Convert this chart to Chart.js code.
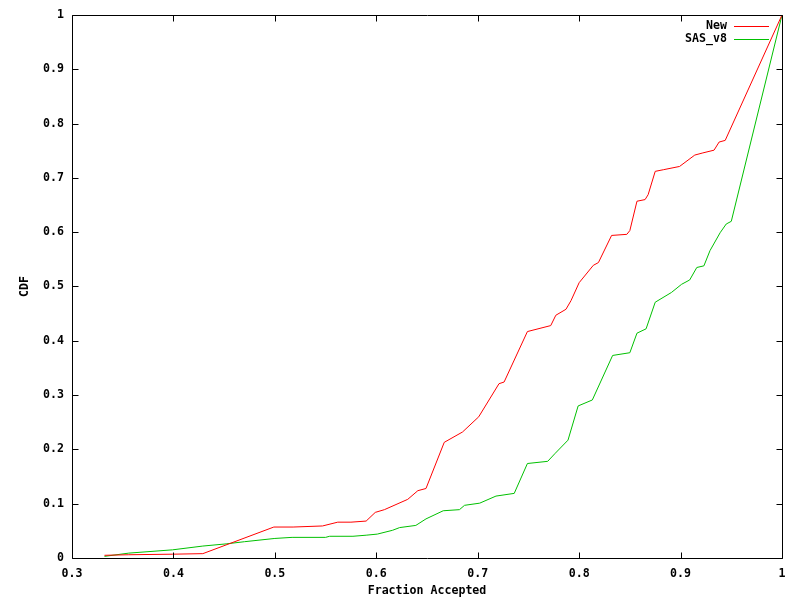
<!DOCTYPE html>
<html>
<head>
<meta charset="utf-8">
<script src="https://cdn.jsdelivr.net/npm/chart.js@4.4.1/dist/chart.umd.min.js"></script>
<style>
  html, body { margin: 0; padding: 0; background: #fff; }
  #cdfChart { display: block; }
</style>
</head>
<body>
<canvas id="cdfChart" width="800" height="600"></canvas>
<script>
// valeurs
var newX = [0.332, 0.356, 0.399, 0.429, 0.499, 0.518, 0.547, 0.562, 0.575, 0.590, 0.599, 0.608, 0.631, 0.641, 0.649, 0.667, 0.685, 0.701, 0.721, 0.726, 0.749, 0.772, 0.777, 0.787, 0.792, 0.800, 0.814, 0.819, 0.832, 0.847, 0.850, 0.857, 0.865, 0.868, 0.875, 0.883, 0.899, 0.914, 0.922, 0.933, 0.938, 0.944, 1.0];
var newY = [0.005, 0.006, 0.007, 0.008, 0.057, 0.057, 0.059, 0.066, 0.066, 0.068, 0.084, 0.089, 0.108, 0.124, 0.128, 0.213, 0.232, 0.260, 0.321, 0.324, 0.417, 0.428, 0.447, 0.458, 0.474, 0.507, 0.539, 0.544, 0.594, 0.596, 0.603, 0.657, 0.660, 0.669, 0.712, 0.715, 0.721, 0.742, 0.746, 0.751, 0.766, 0.769, 1.0];

var sasX = [0.332, 0.356, 0.399, 0.429, 0.452, 0.470, 0.500, 0.517, 0.550, 0.554, 0.577, 0.590, 0.601, 0.616, 0.623, 0.639, 0.649, 0.666, 0.682, 0.687, 0.702, 0.718, 0.736, 0.749, 0.769, 0.776, 0.789, 0.799, 0.813, 0.833, 0.850, 0.857, 0.866, 0.875, 0.891, 0.901, 0.909, 0.916, 0.923, 0.929, 0.939, 0.945, 0.950, 1.0];
var sasY = [0.003, 0.009, 0.015, 0.022, 0.026, 0.030, 0.036, 0.038, 0.038, 0.040, 0.040, 0.042, 0.044, 0.051, 0.056, 0.060, 0.072, 0.087, 0.089, 0.097, 0.101, 0.114, 0.119, 0.174, 0.178, 0.192, 0.217, 0.280, 0.291, 0.373, 0.378, 0.414, 0.422, 0.471, 0.489, 0.504, 0.512, 0.535, 0.538, 0.566, 0.599, 0.615, 0.620, 1.0];

var seriesNames = ["New", "SAS_v8"];
var seriesColors = ["#ff0000", "#00c000"];

var xTicks = [0.3, 0.4, 0.5, 0.6, 0.7, 0.8, 0.9, 1];
var yTicks = [0, 0.1, 0.2, 0.3, 0.4, 0.5, 0.6, 0.7, 0.8, 0.9, 1];

var FONT = "'DejaVu Sans Mono', monospace";
var FSIZE = 11.6;

function toPoints(xs, ys) {
  return xs.map(function (x, i) { return { x: x, y: ys[i] }; });
}

// cadre + petites graduations vers l'interieur (style gnuplot)
var frame = {
  id: "frame",
  afterDraw: function (chart) {
    var ctx = chart.ctx;
    var a = chart.chartArea;
    var sx = chart.scales.x, sy = chart.scales.y;
    var L = Math.round(a.left) + 0.5, R = Math.round(a.right) + 0.5;
    var T = Math.round(a.top) + 0.5, B = Math.round(a.bottom) + 0.5;
    ctx.save();
    ctx.strokeStyle = "#000";
    ctx.lineWidth = 1;
    ctx.beginPath();
    ctx.rect(L, T, R - L, B - T);
    xTicks.forEach(function (v) {
      var p = Math.round(sx.getPixelForValue(v)) + 0.5;
      ctx.moveTo(p, B); ctx.lineTo(p, B - 6);
      ctx.moveTo(p, T); ctx.lineTo(p, T + 6);
    });
    yTicks.forEach(function (v) {
      var p = Math.round(sy.getPixelForValue(v)) + 0.5;
      ctx.moveTo(L, p); ctx.lineTo(L + 6, p);
      ctx.moveTo(R, p); ctx.lineTo(R - 6, p);
    });
    ctx.stroke();

    // legende en haut a droite
    ctx.font = "bold " + FSIZE + "px " + FONT;
    ctx.textAlign = "right";
    ctx.textBaseline = "middle";
    chart.data.datasets.forEach(function (ds, i) {
      var y = 25.5 + i * 13.5;
      ctx.fillStyle = "#000";
      ctx.fillText(ds.label, 727, y);
      ctx.strokeStyle = ds.borderColor;
      ctx.beginPath();
      ctx.moveTo(734, Math.round(y) + 0.5);
      ctx.lineTo(769, Math.round(y) + 0.5);
      ctx.stroke();
    });
    ctx.restore();
  }
};

var cdfChart = new Chart(document.querySelector("#cdfChart"), {
  type: "line",
  data: {
    datasets: [
      {
        label: seriesNames[0],
        data: toPoints(newX, newY),
        borderColor: seriesColors[0],
        borderWidth: 1,
        pointRadius: 0,
        fill: false,
        tension: 0
      },
      {
        label: seriesNames[1],
        data: toPoints(sasX, sasY),
        borderColor: seriesColors[1],
        borderWidth: 1,
        pointRadius: 0,
        fill: false,
        tension: 0
      }
    ]
  },
  options: {
    responsive: false,
    animation: false,
    layout: { padding: { top: 13, right: 18, left: 0, bottom: 0 } },
    plugins: {
      legend: { display: false },
      tooltip: { enabled: false }
    },
    scales: {
      x: {
        type: "linear",
        min: 0.3,
        max: 1,
        afterBuildTicks: function (s) { s.ticks = xTicks.map(function (v) { return { value: v }; }); },
        afterFit: function (s) { s.height = 42; },
        grid: { display: false, drawTicks: false },
        border: { display: false },
        ticks: {
          color: "#000",
          padding: 9,
          maxRotation: 0,
          font: { family: FONT, size: FSIZE, weight: "bold" },
          callback: function (v) { return String(+v.toFixed(1)); }
        },
        title: {
          display: true,
          text: "Fraction Accepted",
          color: "#000",
          padding: { top: 2, bottom: 2 },
          font: { family: FONT, size: FSIZE, weight: "bold" }
        }
      },
      y: {
        type: "linear",
        min: 0,
        max: 1,
        afterBuildTicks: function (s) { s.ticks = yTicks.map(function (v) { return { value: v }; }); },
        afterFit: function (s) { s.width = 72; },
        grid: { display: false, drawTicks: false },
        border: { display: false },
        ticks: {
          color: "#000",
          padding: 8,
          font: { family: FONT, size: FSIZE, weight: "bold" },
          callback: function (v) { return String(+v.toFixed(1)); }
        },
        title: {
          display: true,
          text: "CDF",
          color: "#000",
          padding: { top: 18, bottom: 4 },
          font: { family: FONT, size: FSIZE, weight: "bold" }
        }
      }
    }
  },
  plugins: [frame]
});
</script>
</body>
</html>
